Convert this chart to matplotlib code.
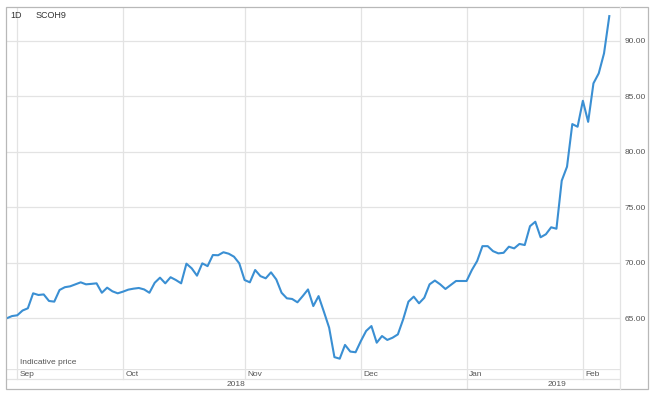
import matplotlib
matplotlib.use("Agg")
import matplotlib.pyplot as plt
from matplotlib.patches import Rectangle
from matplotlib.lines import Line2D

plt.rcParams['font.family'] = ['Liberation Sans', 'DejaVu Sans']

# ---- data (trading-day index, price) ----
prices = [
    65.0, 65.2, 65.27, 65.7, 65.9, 67.25, 67.1, 67.15, 66.56, 66.5,
    67.55, 67.8, 67.88, 68.06, 68.24, 68.06, 68.1, 68.15, 67.3, 67.76,
    67.43, 67.25, 67.4, 67.58, 67.67, 67.73, 67.6, 67.3, 68.2, 68.66,
    68.15, 68.7, 68.45, 68.15, 69.92, 69.5, 68.84, 69.95, 69.7, 70.7,
    70.68, 70.95, 70.82, 70.55, 69.95, 68.45, 68.24, 69.35, 68.8, 68.6,
    69.14, 68.5, 67.3, 66.8, 66.74, 66.44, 67.0, 67.6, 66.1, 67.0,
    65.6, 64.15, 61.5, 61.36, 62.6, 62.0, 61.94, 62.95, 63.86, 64.3,
    62.8, 63.4, 63.05, 63.25, 63.55, 64.9, 66.5, 66.95, 66.35, 66.85,
    68.06, 68.4, 68.06, 67.64, 68.0, 68.36, 68.36, 68.36, 69.35, 70.16,
    71.5, 71.5, 71.05, 70.85, 70.9, 71.45, 71.3, 71.7, 71.6, 73.3,
    73.7, 72.3, 72.57, 73.2, 73.07, 77.4, 78.66, 82.5, 82.26, 84.6,
    82.7, 86.17, 87.07, 88.87, 92.23,
]
month_labels = ["Sep", "Oct", "Nov", "Dec", "Jan", "Feb"]
month_index = [2, 22, 45, 67, 87, 109]
year_labels = ["2018", "2019"]
y_ticks = [65, 70, 75, 80, 85, 90]
symbol = "SCOH9"
period = "1D"
note = "Indicative price"

W, H = 655, 395
fig = plt.figure(figsize=(W / 100, H / 100), dpi=100)

def fr(x0, y0, x1, y1):
    return [x0 / W, 1 - y1 / H, (x1 - x0) / W, (y1 - y0) / H]

PX_L, PX_R, PX_T, PX_B = 6, 620, 7, 369
FRAME_R, FRAME_B = 648, 389

grid_c = "#e3e3e3"
frame_c = "#b8b8b8"
text_c = "#555555"
line_c = "#3a8fd3"

x = list(range(len(prices)))
step = 5.286
x_left = -(6.7 - PX_L) / step
x_right = x_left + (PX_R - PX_L) / step

ax = fig.add_axes(fr(PX_L, PX_T, PX_R, PX_B))
ax.plot(x, prices, color=line_c, lw=1.5, solid_joinstyle='round', zorder=3)
ax.set_xlim(x_left, x_right)
ax.set_ylim(60.43, 93.05)
for s in ax.spines.values():
    s.set_visible(False)
ax.set_xticks(month_index)
ax.set_xticklabels([])
ax.tick_params(axis='x', length=0)
ax.set_yticks(y_ticks)
ax.set_yticklabels([f"{v:.2f}" for v in y_ticks])
ax.yaxis.tick_right()
ax.tick_params(axis='y', length=0, pad=3, labelsize=6, labelcolor=text_c)
ax.grid(True, color=grid_c, lw=0.9)
ax.set_axisbelow(True)
aw, ah = PX_R - PX_L, PX_B - PX_T
ax.text(14 / aw, 6.5 / ah, note, transform=ax.transAxes, fontsize=6,
        color=text_c, va='center', ha='left')
ax.text(4 / aw, 1 - 8 / ah, period, transform=ax.transAxes,
        fontsize=6.5, color="#333333", va='center', ha='left')
ax.text(30 / aw, 1 - 8 / ah, symbol, transform=ax.transAxes,
        fontsize=6.5, color="#333333", va='center', ha='left')

# bottom rows (months, years)
axb = fig.add_axes(fr(PX_L, PX_B, PX_R, FRAME_B))
axb.set_xlim(x_left, x_right)
axb.set_ylim(0, 2)
axb.axis('off')
axb.axhline(2, color=grid_c, lw=0.9)
axb.axhline(1, color=grid_c, lw=0.9)
for xi, lab in zip(month_index, month_labels):
    top_only = (lab != "Jan")
    axb.plot([xi, xi], [1 if top_only else 0, 2], color=grid_c, lw=0.9)
    axb.text(xi + 0.5, 1.5, lab, fontsize=6, color=text_c, va='center', ha='left')
jan = month_index[month_labels.index("Jan")]
x_frame_r = x_left + (FRAME_R - PX_L) / step
year_pos = [(x_left + jan) / 2, (jan + x_frame_r) / 2]
for xp, lab in zip(year_pos, year_labels):
    axb.text(xp, 0.5, lab, fontsize=6, color=text_c, va='center', ha='center',
             clip_on=False)

# outer frame and separators
ov = fig.add_axes([0, 0, 1, 1], zorder=10)
ov.set_xlim(0, W)
ov.set_ylim(H, 0)
ov.axis('off')
ov.patch.set_alpha(0)
ov.add_patch(Rectangle((PX_L, PX_T), FRAME_R - PX_L, FRAME_B - PX_T,
                       fill=False, ec=frame_c, lw=0.9))
ov.add_line(Line2D([PX_R, PX_R], [PX_T, FRAME_B], color=grid_c, lw=0.9))

fig.savefig("out.png", dpi=100)
